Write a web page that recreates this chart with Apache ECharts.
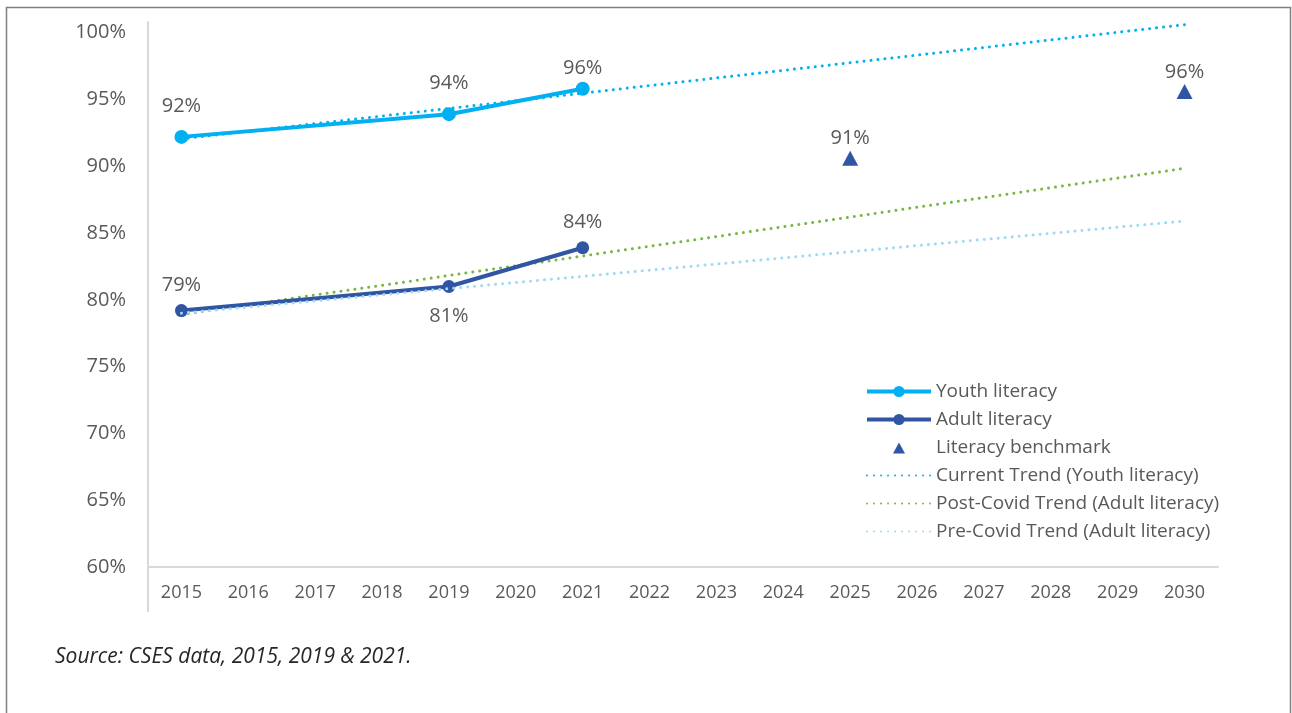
<!DOCTYPE html>
<html>
<head>
<meta charset="utf-8">
<script src="https://cdn.jsdelivr.net/npm/echarts@6/dist/echarts.min.js"></script>
<style>
  html, body { margin: 0; padding: 0; background: #fff; }
  #main { width: 1292px; height: 713px; }
</style>
</head>
<body>
<div id="main"></div>
<script>
var years = ['2015','2016','2017','2018','2019','2020','2021','2022','2023','2024','2025','2026','2027','2028','2029','2030'];
// observed values (%)
var youthLiteracy = [92.2, null, null, null, 93.9, null, 95.8, null, null, null, null, null, null, null, null, null];
var adultLiteracy = [79.2, null, null, null, 81.0, null, 83.9, null, null, null, null, null, null, null, null, null];
var benchmark     = [null, null, null, null, null, null, null, null, null, null, 90.6, null, null, null, null, 95.6];
// trend lines, start and end points only
var youthTrend     = [92.05, null, null, null, null, null, null, null, null, null, null, null, null, null, null, 100.6];
var postCovidTrend = [78.9, null, null, null, null, null, null, null, null, null, null, null, null, null, null, 89.85];
var preCovidTrend  = [79.0, null, null, null, null, null, null, null, null, null, null, null, null, null, null, 85.9];

var textColor = '#595959';
var fontFam = '"Open Sans", "Noto Sans", sans-serif';

function pct(p) { return Math.round(p.value) + '%'; }

function dotted(color) {
    return { color: color, width: 3, type: [0.01, 7], cap: 'round' };
}

// label distance tweaks, like the hand-placed labels in the original
function withLabels(values, tweaks) {
    return values.map(function (v, i) {
        var t = tweaks[years[i]];
        if (v === null || !t) return v;
        return { value: v, label: t };
    });
}

// small triangle in the middle of the 64x14 legend box (corners keep the scale 1:1)
var legendTriangle = 'path://M0,0 M64,14 M26,13 L32,2 L38,13 Z';

var chart = echarts.init(document.getElementById('main'));
var option = {
    backgroundColor: '#fff',
    animation: false,
    textStyle: { fontFamily: fontFam },
    grid: { left: 148, right: 74, top: 22, bottom: 146 },
    graphic: [
        { type: 'rect', shape: { x: 6.5, y: 7.5, width: 1284, height: 720 },
          style: { fill: 'none', stroke: '#7f7f7f', lineWidth: 1.5 }, silent: true },
        // y axis line runs on below the category axis
        { type: 'line', shape: { x1: 148, y1: 567, x2: 148, y2: 612 },
          style: { stroke: '#d9d9d9', lineWidth: 2 }, silent: true },
        { type: 'text', left: 55, top: 647,
          style: { text: 'Source: CSES data, 2015, 2019 & 2021.', fill: '#262626',
                   font: 'italic 21px "Open Sans", sans-serif' } }
    ],
    legend: {
        orient: 'vertical',
        left: 860,
        top: 377,
        itemWidth: 64,
        itemHeight: 14,
        itemGap: 9,
        textStyle: { color: textColor, fontSize: 19, fontFamily: fontFam },
        data: [
            { name: 'Youth literacy', lineStyle: { width: 4 } },
            { name: 'Adult literacy', lineStyle: { width: 4 } },
            { name: 'Literacy benchmark', icon: legendTriangle },
            { name: 'Current Trend (Youth literacy)', itemStyle: { opacity: 0 } },
            { name: 'Post-Covid Trend (Adult literacy)', itemStyle: { opacity: 0 } },
            { name: 'Pre-Covid Trend (Adult literacy)', itemStyle: { opacity: 0 } }
        ]
    },
    xAxis: {
        type: 'category',
        data: years,
        boundaryGap: true,
        axisLine: { lineStyle: { color: '#d9d9d9', width: 2 } },
        axisTick: { show: false },
        axisLabel: { color: textColor, fontSize: 18, margin: 17, interval: 0 }
    },
    yAxis: {
        type: 'value',
        min: 60,
        max: 100.8,
        interval: 5,
        axisLine: { show: true, lineStyle: { color: '#d9d9d9', width: 2 } },
        axisTick: { show: false },
        splitLine: { show: false },
        axisLabel: {
            color: textColor, fontSize: 20, margin: 22,
            formatter: function (v) { return v % 5 === 0 ? v + '%' : ''; }
        }
    },
    series: [
        {
            name: 'Current Trend (Youth literacy)',
            type: 'line',
            data: youthTrend,
            connectNulls: true,
            showSymbol: false,
            symbol: 'none',
            lineStyle: dotted('#00b0f0'),
            itemStyle: { color: '#00b0f0' },
            z: 2
        },
        {
            name: 'Post-Covid Trend (Adult literacy)',
            type: 'line',
            data: postCovidTrend,
            connectNulls: true,
            showSymbol: false,
            symbol: 'none',
            lineStyle: dotted('#77b843'),
            itemStyle: { color: '#77b843' },
            z: 2
        },
        {
            name: 'Youth literacy',
            type: 'line',
            data: withLabels(youthLiteracy, { '2021': { distance: 3 } }),
            connectNulls: true,
            symbol: 'circle',
            symbolSize: 14,
            lineStyle: { color: '#00b0f0', width: 4 },
            itemStyle: { color: '#00b0f0' },
            label: { show: true, position: 'top', distance: 14, color: textColor, fontSize: 20, formatter: pct },
            z: 3
        },
        {
            name: 'Adult literacy',
            type: 'line',
            data: withLabels(adultLiteracy, { '2019': { position: 'bottom', distance: 13 } }),
            connectNulls: true,
            symbol: 'circle',
            symbolSize: 13,
            lineStyle: { color: '#2f55a4', width: 4 },
            itemStyle: { color: '#2f55a4' },
            label: { show: true, position: 'top', distance: 9, color: textColor, fontSize: 20, formatter: pct },
            z: 3
        },
        {
            name: 'Pre-Covid Trend (Adult literacy)',
            type: 'line',
            data: preCovidTrend,
            connectNulls: true,
            showSymbol: false,
            symbol: 'none',
            lineStyle: dotted('#9ddaf6'),
            itemStyle: { color: '#9ddaf6' },
            z: 4
        },
        {
            name: 'Literacy benchmark',
            type: 'scatter',
            data: benchmark,
            symbol: 'triangle',
            symbolSize: [16, 15],
            itemStyle: { color: '#2f55a4', opacity: 1 },
            label: { show: true, position: 'top', distance: 2, color: textColor, fontSize: 20, formatter: pct },
            z: 3
        }
    ]
};
chart.setOption(option);
window.addEventListener('resize', function () { chart.resize(); });
</script>
</body>
</html>
